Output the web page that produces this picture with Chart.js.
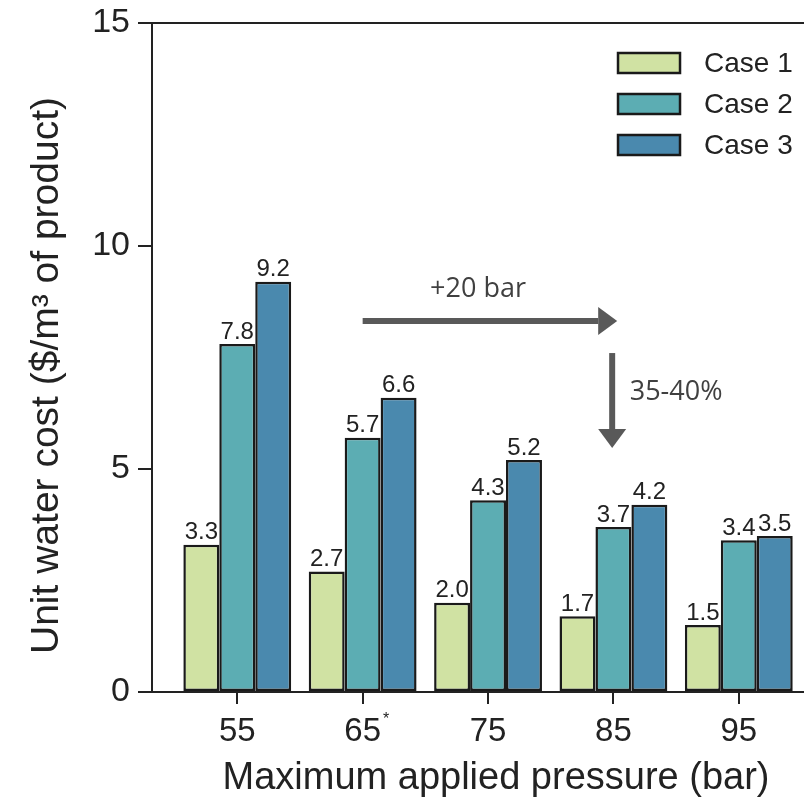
<!DOCTYPE html>
<html>
<head>
<meta charset="utf-8">
<title>Unit water cost vs maximum applied pressure</title>
<script src="https://cdn.jsdelivr.net/npm/chart.js@4.4.0/dist/chart.umd.min.js"></script>
<style>
  html, body { margin: 0; padding: 0; background: #fff; overflow: hidden; }
</style>
</head>
<body>
<!-- the right spine sits just past the window edge, as in the figure -->
<canvas id="chart" width="840" height="801"></canvas>
<script>
// data
const pressures = [55, 65, 75, 85, 95];
const tickLabels = ['55', '65', '75', '85', '95'];
const tickNotes = ['', '*', '', '', ''];
const case1 = [3.3, 2.7, 2.0, 1.7, 1.5];
const case2 = [7.8, 5.7, 4.3, 3.7, 3.4];
const case3 = [9.2, 6.6, 5.2, 4.2, 3.5];
const seriesNames = ['Case 1', 'Case 2', 'Case 3'];
const yTicks = [0, 5, 10, 15];
const yTitle = 'Unit water cost ($/m³ of product)';

const fills = ['#d0e2a3', '#5cadb3', '#4a89ae'];
const ink = '#222';
const sans = '"Liberation Sans", Arial, sans-serif';

// annotations in data units
const arrows = [
  { from: [65, 8.32], to: [85.3, 8.32] },
  { from: [84.9, 7.6], to: [84.9, 5.47] }
];
const notes = [
  { text: '+20 bar', at: [74.2, 9.04], align: 'center' },
  { text: '35-40%', at: [86.3, 6.73], align: 'left' }
];

const series = [case1, case2, case3];

const overlay = {
  id: 'overlay',
  afterDatasetsDraw(chart) {
    const ctx = chart.ctx;
    ctx.save();
    ctx.font = '24px ' + sans;
    ctx.fillStyle = ink;
    ctx.textAlign = 'center';
    ctx.textBaseline = 'bottom';
    chart.data.datasets.forEach((ds, i) => {
      chart.getDatasetMeta(i).data.forEach((bar, j) => {
        ctx.fillText(series[i][j].toFixed(1), bar.x, bar.y);
      });
    });
    ctx.restore();
  },
  afterDraw(chart) {
    const { ctx, chartArea: area, scales: { x, y } } = chart;
    ctx.save();

    // top frame line
    ctx.strokeStyle = ink;
    ctx.lineWidth = 2;
    ctx.beginPath();
    ctx.moveTo(area.left - 1, area.top);
    ctx.lineTo(area.right, area.top);
    ctx.stroke();

    // y title, a bit below the axis middle as in the figure
    ctx.save();
    ctx.translate(47, (area.top + area.bottom) / 2 + 18);
    ctx.rotate(-Math.PI / 2);
    ctx.font = '39px ' + sans;
    ctx.fillStyle = ink;
    ctx.textAlign = 'center';
    ctx.textBaseline = 'middle';
    ctx.fillText(yTitle, 0, 0);
    ctx.restore();

    // small asterisk on tick labels
    tickNotes.forEach((n, i) => {
      if (!n) return;
      ctx.font = '33px ' + sans;
      const px = x.getPixelForValue(pressures[i]) + ctx.measureText(tickLabels[i]).width / 2 + 2;
      ctx.font = '16px ' + sans;
      ctx.fillStyle = ink;
      ctx.textAlign = 'left';
      ctx.textBaseline = 'top';
      ctx.fillText(n, px, area.bottom + 20);
    });

    // arrows
    ctx.fillStyle = '#595959';
    ctx.strokeStyle = '#595959';
    arrows.forEach(a => {
      const x0 = x.getPixelForValue(a.from[0]), y0 = y.getPixelForValue(a.from[1]);
      const x1 = x.getPixelForValue(a.to[0]), y1 = y.getPixelForValue(a.to[1]);
      const ang = Math.atan2(y1 - y0, x1 - x0);
      const head = 19, half = 14;
      const bx = x1 - head * Math.cos(ang), by = y1 - head * Math.sin(ang);
      ctx.lineWidth = 6;
      ctx.beginPath();
      ctx.moveTo(x0, y0);
      ctx.lineTo(bx, by);
      ctx.stroke();
      ctx.beginPath();
      ctx.moveTo(x1, y1);
      ctx.lineTo(bx + half * Math.sin(ang), by - half * Math.cos(ang));
      ctx.lineTo(bx - half * Math.sin(ang), by + half * Math.cos(ang));
      ctx.closePath();
      ctx.fill();
    });

    ctx.font = '27px "Open Sans", sans-serif';
    ctx.fillStyle = '#404040';
    ctx.textBaseline = 'middle';
    notes.forEach(n => {
      ctx.textAlign = n.align;
      ctx.fillText(n.text, x.getPixelForValue(n.at[0]), y.getPixelForValue(n.at[1]));
    });

    // legend, top right inside the plot (offset from the visible edge)
    ctx.font = '28px ' + sans;
    ctx.textAlign = 'left';
    ctx.textBaseline = 'middle';
    chart.data.datasets.forEach((ds, i) => {
      const bx = x.getPixelForValue(100.2) - 186, by = area.top + 30 + i * 41;
      ctx.fillStyle = ds.backgroundColor;
      ctx.fillRect(bx, by, 62, 20);
      ctx.lineWidth = 2.5;
      ctx.strokeStyle = '#1a1a1a';
      ctx.strokeRect(bx, by, 62, 20);
      ctx.fillStyle = ink;
      ctx.fillText(ds.label, bx + 86, by + 11);
    });

    ctx.restore();
  }
};

new Chart(document.getElementById('chart').getContext('2d'), {
  type: 'bar',
  data: {
    datasets: series.map((vals, i) => ({
      label: seriesNames[i],
      data: pressures.map((p, j) => ({ x: p, y: vals[j] })),
      backgroundColor: fills[i],
      borderColor: '#1a1a1a',
      borderWidth: 2.5,
      borderSkipped: false,
      categoryPercentage: 0.86,
      barPercentage: 1.0
    }))
  },
  options: {
    responsive: false,
    animation: false,
    devicePixelRatio: 1,
    layout: { padding: { top: 23, right: 0, bottom: 0, left: 0 } },
    plugins: { legend: { display: false }, tooltip: { enabled: false } },
    scales: {
      x: {
        type: 'linear',
        min: 48.2,
        max: 103.07,
        offset: false,
        afterBuildTicks: s => { s.ticks = pressures.map(v => ({ value: v })); },
        afterFit: s => { s.height = 109; s.paddingLeft = 0; s.paddingRight = 0; },
        grid: { drawOnChartArea: false, offset: false, tickLength: 12, color: ink, lineWidth: 2 },
        border: { color: ink, width: 2 },
        ticks: {
          autoSkip: false, maxRotation: 0, padding: 8,
          color: ink, font: { family: sans, size: 33 },
          callback: (v, i) => tickLabels[i]
        },
        title: {
          display: true,
          text: 'Maximum applied pressure (bar)',
          color: ink,
          font: { family: sans, size: 38 },
          padding: { top: 0, bottom: 0 }
        }
      },
      y: {
        min: 0,
        max: 15,
        afterBuildTicks: s => { s.ticks = yTicks.map(v => ({ value: v })); },
        afterFit: s => { s.width = 152; s.paddingTop = 0; s.paddingBottom = 0; },
        grid: { drawOnChartArea: false, tickLength: 14, color: ink, lineWidth: 2 },
        border: { color: ink, width: 2 },
        ticks: { padding: 8, color: ink, font: { family: sans, size: 34 } },
        title: { display: false }
      }
    }
  },
  plugins: [overlay]
});
</script>
</body>
</html>
